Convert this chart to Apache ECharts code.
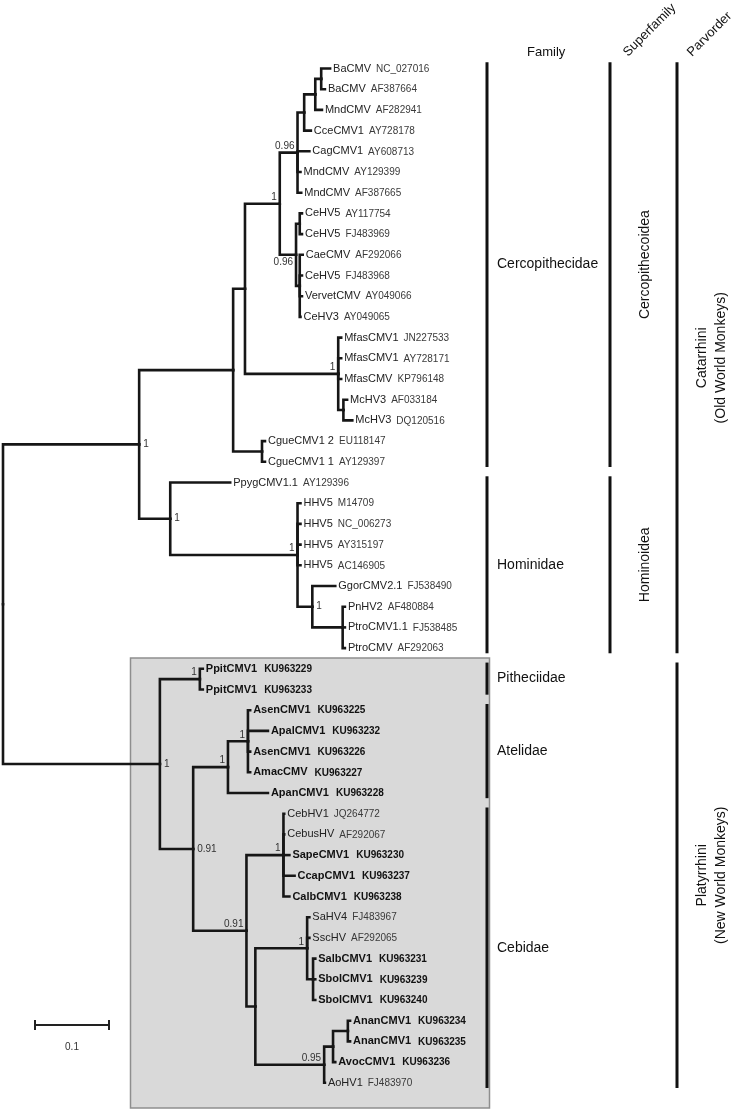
<!DOCTYPE html>
<html>
<head>
<meta charset="utf-8">
<script src="https://cdn.jsdelivr.net/npm/echarts@6/dist/echarts.min.js"></script>
<style>
  html, body { margin: 0; padding: 0; background: #fff; }
  #main { width: 738px; height: 1113px; }
</style>
</head>
<body>
<div id="main"></div>
<script>
// Newick tree: leaves are accessions, inner nodes are named, branch lengths in subst./site
const treeNewick =
  "(((((((((NC_027016:0.012,AF387664:0.005)nA:0.008,AF282941:0.009)nB:0.015,AY728178:0.009)nD:0.009," +
  "AY608713:0.016,AY129399:0.004,AF387665:0.005)nE:0.024," +
  "((AY117754:0.003,FJ483969:0.003)nH:0.005,(AF292066:0.004,FJ483968:0.003,AY049066:0.003,AY049065:0.001)nI:0.005)nG:0.022)nF:0.047," +
  "(JN227533:0.004,AY728171:0.004,KP796148:0.004,(AF033184:0.005,DQ120516:0.012)nM:0.007)nL:0.126)nK:0.016," +
  "(EU118147:0.004,AY129397:0.004)nCg:0.039)nJ:0.127," +
  "(AY129396:0.081,(M14709:0.004,NC_006273:0.004,AY315197:0.004,AC146905:0.004," +
  "(FJ538490:0.031,(AF480884:0.003,FJ538485:0.003,AF292063:0.003)nR:0.041)nQ:0.020)nP:0.172)nO:0.042)nN:0.184," +
  "((KU963229:0.004,KU963233:0.004)nT:0.054," +
  "(((KU963225:0.003,KU963232:0.027,KU963226:0.003,KU963227:0.003)nW:0.027,KU963228:0.054)nV:0.047," +
  "((JQ264772:0.001,AF292067:0.001,KU963230:0.008,KU963237:0.015,KU963238:0.008)nY:0.050," +
  "((FJ483967:0.003,AF292065:0.003,(KU963231:0.003,KU963239:0.003,KU963240:0.003)nAB:0.008)nAA:0.070," +
  "(((KU963234:0.003,KU963235:0.003)nAD:0.020,KU963236:0.003)nAC:0.012,FJ483970:0.001)nBB:0.093)nZ:0.012)nX:0.072)nU:0.045)nS:0.212)root;";

const leafAcc = ['NC_027016','AF387664','AF282941','AY728178','AY608713','AY129399','AF387665','AY117754','FJ483969','AF292066',
  'FJ483968','AY049066','AY049065','JN227533','AY728171','KP796148','AF033184','DQ120516','EU118147','AY129397',
  'AY129396','M14709','NC_006273','AY315197','AC146905','FJ538490','AF480884','FJ538485','AF292063',
  'KU963229','KU963233','KU963225','KU963232','KU963226','KU963227','KU963228','JQ264772','AF292067','KU963230',
  'KU963237','KU963238','FJ483967','AF292065','KU963231','KU963239','KU963240','KU963234','KU963235','KU963236','FJ483970'];
const leafName = ['BaCMV','BaCMV','MndCMV','CceCMV1','CagCMV1','MndCMV','MndCMV','CeHV5','CeHV5','CaeCMV',
  'CeHV5','VervetCMV','CeHV3','MfasCMV1','MfasCMV1','MfasCMV','McHV3','McHV3','CgueCMV1 2','CgueCMV1 1',
  'PpygCMV1.1','HHV5','HHV5','HHV5','HHV5','GgorCMV2.1','PnHV2','PtroCMV1.1','PtroCMV',
  'PpitCMV1','PpitCMV1','AsenCMV1','ApalCMV1','AsenCMV1','AmacCMV','ApanCMV1','CebHV1','CebusHV','SapeCMV1',
  'CcapCMV1','CalbCMV1','SaHV4','SscHV','SalbCMV1','SbolCMV1','SbolCMV1','AnanCMV1','AnanCMV1','AvocCMV1','AoHV1'];
// sequences from this study (printed bold)
const newSeqPrefix = 'KU963';

// posterior support at inner nodes, and which side of the node the value sits
const supportNode  = ['nN','nO','nF','nE','nG','nL','nP','nQ','nS','nT','nU','nV','nW','nX','nY','nAA','nBB'];
const supportValue = ['1','1','1','0.96','0.96','1','1','1','1','1','0.91','1','1','0.91','1','1','0.95'];
const supportSide  = ['r','r','tl','tl','bl','tl','tl','r','r','tl','r','tl','tl','tl','tl','tl','tl'];

// taxonomy columns (first / last leaf row)
const familyNames = ['Cercopithecidae','Hominidae','Pitheciidae','Atelidae','Cebidae'];
const familyFirst = [0, 20, 29, 31, 36];
const familyLast  = [19, 28, 30, 35, 49];
const superfamilyNames = ['Cercopithecoidea','Hominoidea'];
const superfamilyFirst = [0, 20];
const superfamilyLast  = [19, 28];
const parvorderNames = ['Catarrhini\n(Old World Monkeys)','Platyrrhini\n(New World Monkeys)'];
const parvorderFirst = [0, 29];
const parvorderLast  = [28, 49];
const scaleBarLength = 0.1;

const FONT = '"Liberation Sans", Arial, Helvetica, sans-serif';

function parseNewick(s) {
  let i = 0;
  function node() {
    const n = { children: [], name: '', len: 0 };
    if (s[i] === '(') {
      i++;
      n.children.push(node());
      while (s[i] === ',') { i++; n.children.push(node()); }
      i++; // ')'
    }
    let name = '';
    while (i < s.length && ',():;'.indexOf(s[i]) < 0) name += s[i++];
    n.name = name;
    if (s[i] === ':') {
      i++;
      let num = '';
      while (i < s.length && ',();'.indexOf(s[i]) < 0) num += s[i++];
      n.len = parseFloat(num);
    }
    return n;
  }
  return node();
}

// rectangular layout: x = distance from root, y = leaf row
const tree = parseNewick(treeNewick.replace(/\s+/g, ''));
const edges = [], tips = [], innerById = {};
let row = 0;
(function walk(n, x0) {
  n.x = x0 + n.len;
  if (!n.children.length) { n.y = row++; tips.push(n); return; }
  n.children.forEach(c => walk(c, n.x));
  n.y = (n.children[0].y + n.children[n.children.length - 1].y) / 2;
  innerById[n.name] = n;
  n.children.forEach(c => edges.push([n.x, n.y, c.x, c.y]));
})(tree, 0);

const chart = echarts.init(document.getElementById('main'));

const lineCol = '#161616';
const colX = { family: 487, superfamily: 610, parvorder: 677 };

function groupSeries(names, first, last, col) {
  return {
    type: 'custom',
    z: 3,
    data: names.map((n, i) => [first[i], last[i]]),
    renderItem: function (params, api) {
      const y1 = api.coord([0, api.value(0) - 0.3])[1];
      const y2 = api.coord([0, api.value(1) + 0.25])[1];
      const bx = colX[col];
      const label = names[params.dataIndex];
      const children = [{
        type: 'line',
        shape: { x1: bx, y1: y1, x2: bx, y2: y2 },
        style: { stroke: '#111', lineWidth: 3 }
      }];
      const ym = (y1 + y2) / 2;
      if (col === 'family') {
        children.push({ type: 'text', x: bx + 10, y: ym,
          style: { text: label, fontSize: 14, fontFamily: FONT, fill: '#111', align: 'left', verticalAlign: 'middle' } });
      } else {
        children.push({ type: 'text', x: col === 'superfamily' ? 645 : 712, y: ym, rotation: Math.PI / 2,
          style: { text: label, fontSize: 14, lineHeight: 19, fontFamily: FONT, fill: '#111', align: 'center', verticalAlign: 'middle' } });
      }
      return { type: 'group', children: children };
    }
  };
}

const option = {
  animation: false,
  grid: { left: 3, right: 9.8, top: 68.5, bottom: 30.2 },
  xAxis: { type: 'value', min: 0, max: 0.98, show: false },
  yAxis: { type: 'value', min: 0, max: 49, inverse: true, show: false },
  graphic: [
    { type: 'text', x: 527, y: 52,
      style: { text: 'Family', fontSize: 13, fontFamily: FONT, fill: '#111', align: 'left', verticalAlign: 'middle' } },
    { type: 'text', x: 630, y: 59, rotation: Math.PI / 4,
      style: { text: 'Superfamily', fontSize: 13, fontFamily: FONT, fill: '#111', align: 'left', verticalAlign: 'bottom' } },
    { type: 'text', x: 694, y: 59, rotation: Math.PI / 4,
      style: { text: 'Parvorder', fontSize: 13, fontFamily: FONT, fill: '#111', align: 'left', verticalAlign: 'bottom' } }
  ],
  series: [
    // shaded box behind the New World clade
    {
      type: 'custom',
      z: 0,
      data: [[parvorderFirst[1], parvorderLast[1]]],
      renderItem: function (params, api) {
        const top = api.coord([0, api.value(0) - 0.52])[1];
        const bottom = api.coord([0, api.value(1) + 1.22])[1];
        return { type: 'rect', shape: { x: 130.5, y: top, width: 359, height: bottom - top },
          style: { fill: '#d9d9d9', stroke: '#8e8e8e', lineWidth: 1.5 } };
      }
    },
    // branches
    {
      type: 'custom',
      z: 2,
      data: edges,
      renderItem: function (params, api) {
        const p = api.coord([api.value(0), api.value(1)]);
        const c = api.coord([api.value(2), api.value(3)]);
        return { type: 'polyline',
          shape: { points: [[p[0], p[1]], [p[0], c[1]], [c[0], c[1]]] },
          style: { stroke: lineCol, lineWidth: 2.6, fill: 'none', lineCap: 'square', lineJoin: 'miter' } };
      }
    },
    // tip labels
    {
      type: 'custom',
      z: 4,
      data: tips.map(t => [t.x, t.y]),
      renderItem: function (params, api) {
        const t = tips[params.dataIndex];
        const k = leafAcc.indexOf(t.name);
        const bold = t.name.indexOf(newSeqPrefix) === 0;
        const c = api.coord([api.value(0), api.value(1)]);
        return { type: 'text', x: c[0] + 3, y: c[1],
          style: {
            text: '{n|' + leafName[k] + '}{a|' + t.name + '}',
            fontFamily: FONT, fontSize: 11, fill: '#222', align: 'left', verticalAlign: 'middle',
            rich: {
              n: { fontFamily: FONT, fontSize: 11, fontWeight: bold ? 'bold' : 'normal', fill: bold ? '#111' : '#222' },
              a: { fontFamily: FONT, fontSize: 10, fontWeight: bold ? 'bold' : 'normal', fill: bold ? '#111' : '#3a3a3a',
                   padding: [0, 0, 0, bold ? 7 : 5], verticalAlign: 'bottom' }
            }
          } };
      }
    },
    // support values
    {
      type: 'custom',
      z: 4,
      data: supportNode.map(id => [innerById[id].x, innerById[id].y]),
      renderItem: function (params, api) {
        const i = params.dataIndex;
        const c = api.coord([api.value(0), api.value(1)]);
        const side = supportSide[i];
        let x = c[0] - 3, y = c[1] - 1.5, align = 'right', va = 'bottom';
        if (side === 'r') { x = c[0] + 4; y = c[1]; align = 'left'; va = 'middle'; }
        if (side === 'bl') { y = c[1] + 2; va = 'top'; }
        return { type: 'text', x: x, y: y,
          style: { text: supportValue[i], fontFamily: FONT, fontSize: 10, fill: '#333', align: align, verticalAlign: va } };
      }
    },
    groupSeries(familyNames, familyFirst, familyLast, 'family'),
    groupSeries(superfamilyNames, superfamilyFirst, superfamilyLast, 'superfamily'),
    groupSeries(parvorderNames, parvorderFirst, parvorderLast, 'parvorder'),
    // scale bar
    {
      type: 'custom',
      z: 4,
      data: [[scaleBarLength, 0]],
      renderItem: function (params, api) {
        const w = api.size([api.value(0), 0])[0];
        const x0 = 35, y0 = 1025;
        return { type: 'group', children: [
          { type: 'line', shape: { x1: x0, y1: y0, x2: x0 + w, y2: y0 }, style: { stroke: '#222', lineWidth: 2 } },
          { type: 'line', shape: { x1: x0, y1: y0 - 5, x2: x0, y2: y0 + 5 }, style: { stroke: '#222', lineWidth: 2 } },
          { type: 'line', shape: { x1: x0 + w, y1: y0 - 5, x2: x0 + w, y2: y0 + 5 }, style: { stroke: '#222', lineWidth: 2 } },
          { type: 'text', x: x0 + w / 2, y: y0 + 22,
            style: { text: String(api.value(0)), fontFamily: FONT, fontSize: 10, fill: '#333', align: 'center', verticalAlign: 'middle' } }
        ] };
      }
    }
  ]
};

chart.setOption(option);
window.addEventListener('resize', () => chart.resize());
</script>
</body>
</html>
